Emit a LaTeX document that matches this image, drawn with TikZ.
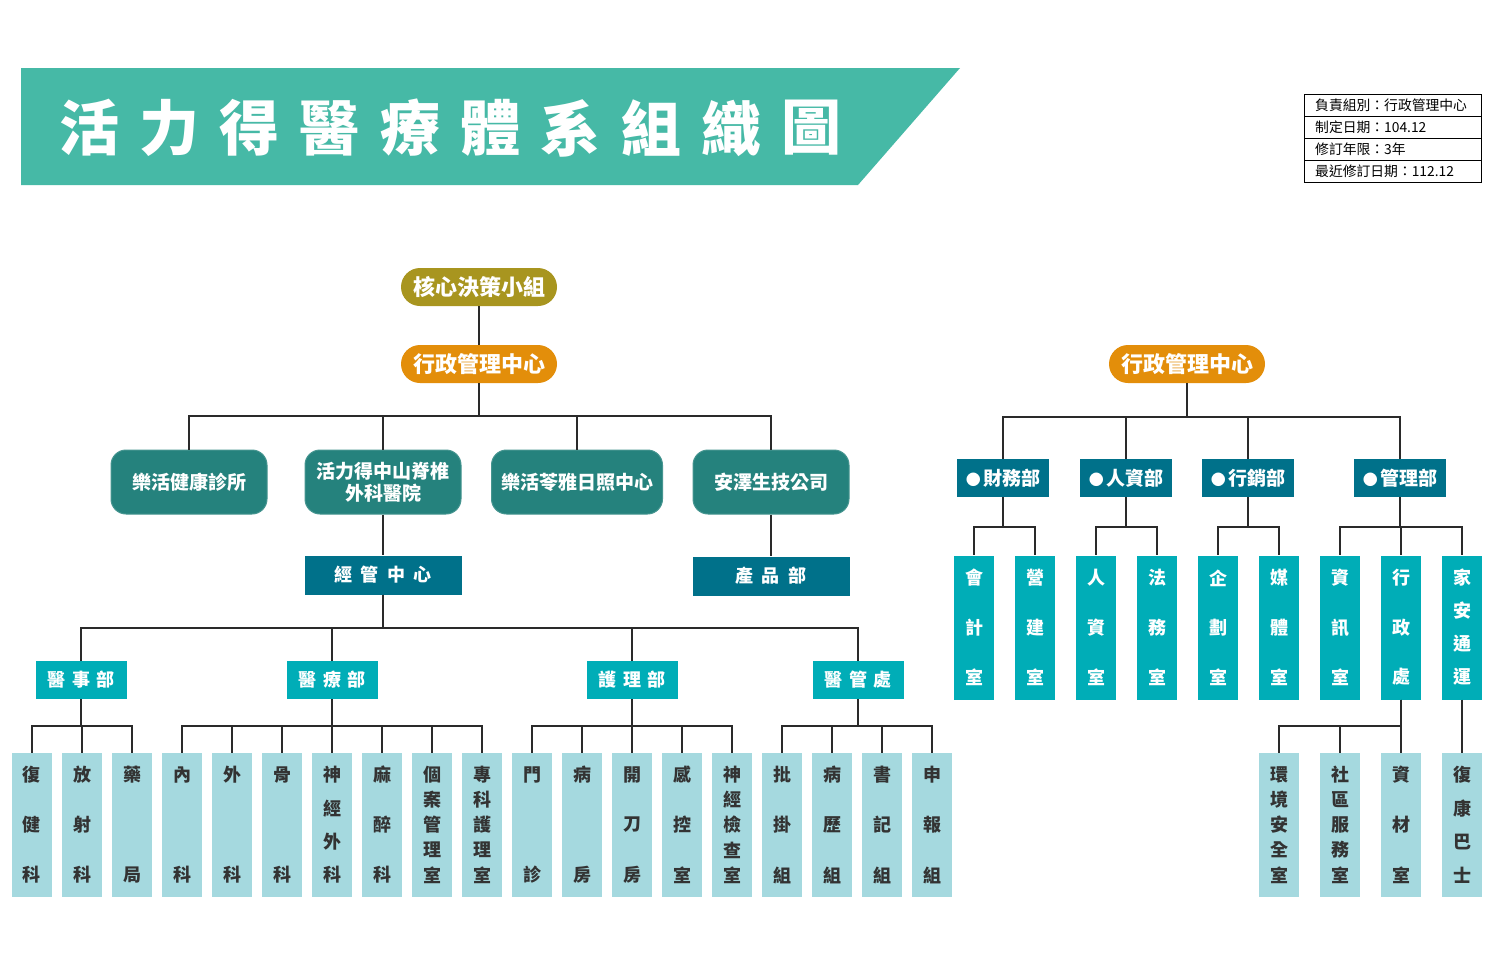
\documentclass[tikz,border=0pt]{standalone}
\usepackage{fontspec}
\setmainfont{Noto Sans CJK TC}
\usetikzlibrary{calc}
\definecolor{banner}{HTML}{46B9A6}
\definecolor{olive}{HTML}{A8951F}
\definecolor{orangeA}{HTML}{E38E0A}
\definecolor{tealR}{HTML}{25827D}
\definecolor{deepT}{HTML}{00718A}
\definecolor{brightT}{HTML}{00ADB7}
\definecolor{lightT}{HTML}{A5D9DF}
\definecolor{lineC}{HTML}{2A2A2A}
\definecolor{txtD}{HTML}{333333}
\newcommand\vleaf[8]{%
  \node[#3] (#1) at (#2,{(#5+#6)/2}) {};
  \foreach \c [count=\i] in {#8}{\node[#4] (#1-\i) at (#2,{#5+(\i-1)*(#6-#5)/(#7-1)}) {\c};}
}
\newcommand\dotmark{{\fontsize{15}{15}\selectfont ●}\hspace{0.12em}}
\begin{document}
\begin{tikzpicture}[x=1pt,y=-1pt,
  pill/.style={rounded corners=19pt,minimum width=156pt,minimum height=38pt,inner sep=0pt,text=white,font=\bfseries\fontsize{22}{26}\selectfont},
  comp/.style={rounded corners=15pt,fill=tealR,draw=tealR!85!white,line width=1pt,minimum width=156pt,minimum height=64pt,inner sep=0pt,text=white,align=center,font=\bfseries\fontsize{19}{24}\selectfont},
  hbox/.style={fill=deepT,minimum width=157pt,minimum height=39pt,inner sep=0pt,text=white,font=\bfseries\fontsize{18}{22}\selectfont},
  dept/.style={fill=brightT,minimum width=91pt,minimum height=38pt,inner sep=0pt,text=white,font=\bfseries\fontsize{18}{22}\selectfont},
  rdept/.style={fill=deepT,minimum width=92pt,minimum height=38pt,inner sep=0pt,text=white,font=\bfseries\fontsize{19}{22}\selectfont},
  leafL/.style={fill=lightT,minimum width=40pt,minimum height=144pt,inner sep=0pt},
  leafR/.style={fill=brightT,minimum width=40pt,minimum height=144pt,inner sep=0pt},
  ltxtL/.style={inner sep=0pt,text=txtD,font=\bfseries\fontsize{18}{20}\selectfont},
  ltxtR/.style={inner sep=0pt,text=white,font=\bfseries\fontsize{18}{20}\selectfont},
  conn/.style={draw=lineC,line width=1.8pt},
  info/.style={anchor=west,inner sep=0pt,text=black,font=\fontsize{13.8}{15}\selectfont}
]
\useasboundingbox[fill=white] (0,0) rectangle (1500,980);
% banner
\fill[banner] (21,68) -- (960,68) -- (858,185) -- (21,185) -- cycle;
\foreach \c [count=\i] in {活,力,得,醫,療,體,系,組,織,圖}{
  \node[inner sep=0pt,text=white,font=\bfseries\fontsize{60}{60}\selectfont] (t\i) at ({89+(\i-1)*80.3},128) {\c};
}
% info table
\draw[black,line width=0.9pt] (1304,94) rectangle (1481,182);
\foreach \yy in {116,138,160}{\draw[black,line width=0.9pt] (1304,\yy) -- (1481,\yy);}
\node[info] (i1) at (1315,105) {負責組別：行政管理中心};
\node[info] (i2) at (1315,127) {制定日期：104.12};
\node[info] (i3) at (1315,149) {修訂年限：3年};
\node[info] (i4) at (1315,171) {最近修訂日期：112.12};
% top
\node[pill,fill=olive] (core) at (479,287) {核心決策小組};
\node[pill,fill=orangeA] (admL) at (479,364) {行政管理中心};
\node[pill,fill=orangeA] (admR) at (1187,364) {行政管理中心};
% companies
\node[comp] (c1) at (189,482) {樂活健康診所};
\node[comp] (c2) at (383,482) {活力得中山脊椎\\[-2pt]外科醫院};
\node[comp,minimum width=171pt] (c3) at (577,482) {樂活苓雅日照中心};
\node[comp] (c4) at (771,482) {安澤生技公司};
\node[hbox] (jg) at (383,575) {經\hspace{0.45em}管\hspace{0.45em}中\hspace{0.45em}心};
\node[hbox] (prod) at (771,576) {產\hspace{0.45em}品\hspace{0.45em}部};
% departments
\node[dept] (d1) at (81,680) {醫\hspace{0.35em}事\hspace{0.35em}部};
\node[dept] (d2) at (332,680) {醫\hspace{0.35em}療\hspace{0.35em}部};
\node[dept] (d3) at (632,680) {護\hspace{0.35em}理\hspace{0.35em}部};
\node[dept] (d4) at (858,680) {醫\hspace{0.35em}管\hspace{0.35em}處};
% right departments
\node[rdept] (r1) at (1003,478) {\dotmark 財務部};
\node[rdept] (r2) at (1126,478) {\dotmark 人資部};
\node[rdept] (r3) at (1248,478) {\dotmark 行銷部};
\node[rdept] (r4) at (1400,478) {\dotmark 管理部};
% left leaves
\vleaf{L1}{32}{leafL}{ltxtL}{775}{875}{3}{復,健,科}
\vleaf{L2}{82}{leafL}{ltxtL}{775}{875}{3}{放,射,科}
\vleaf{L3}{132}{leafL}{ltxtL}{775}{875}{2}{藥,局}
\vleaf{L4}{182}{leafL}{ltxtL}{775}{875}{2}{內,科}
\vleaf{L5}{232}{leafL}{ltxtL}{775}{875}{2}{外,科}
\vleaf{L6}{282}{leafL}{ltxtL}{775}{875}{2}{骨,科}
\vleaf{L7}{332}{leafL}{ltxtL}{775}{875}{4}{神,經,外,科}
\vleaf{L8}{382}{leafL}{ltxtL}{775}{875}{3}{麻,醉,科}
\vleaf{L9}{432}{leafL}{ltxtL}{775}{875}{5}{個,案,管,理,室}
\vleaf{L10}{482}{leafL}{ltxtL}{775}{875}{5}{專,科,護,理,室}
\vleaf{L11}{532}{leafL}{ltxtL}{775}{875}{2}{門,診}
\vleaf{L12}{582}{leafL}{ltxtL}{775}{875}{2}{病,房}
\vleaf{L13}{632}{leafL}{ltxtL}{775}{875}{3}{開,刀,房}
\vleaf{L14}{682}{leafL}{ltxtL}{775}{875}{3}{感,控,室}
\vleaf{L15}{732}{leafL}{ltxtL}{775}{875}{5}{神,經,檢,查,室}
\vleaf{L16}{782}{leafL}{ltxtL}{775}{875}{3}{批,掛,組}
\vleaf{L17}{832}{leafL}{ltxtL}{775}{875}{3}{病,歷,組}
\vleaf{L18}{882}{leafL}{ltxtL}{775}{875}{3}{書,記,組}
\vleaf{L19}{932}{leafL}{ltxtL}{775}{875}{3}{申,報,組}
% right upper leaves
\vleaf{R1}{974}{leafR}{ltxtR}{578}{677}{3}{會,計,室}
\vleaf{R2}{1035}{leafR}{ltxtR}{578}{677}{3}{營,建,室}
\vleaf{R3}{1096}{leafR}{ltxtR}{578}{677}{3}{人,資,室}
\vleaf{R4}{1157}{leafR}{ltxtR}{578}{677}{3}{法,務,室}
\vleaf{R5}{1218}{leafR}{ltxtR}{578}{677}{3}{企,劃,室}
\vleaf{R6}{1279}{leafR}{ltxtR}{578}{677}{3}{媒,體,室}
\vleaf{R7}{1340}{leafR}{ltxtR}{578}{677}{3}{資,訊,室}
\vleaf{R8}{1401}{leafR}{ltxtR}{578}{677}{3}{行,政,處}
\vleaf{R9}{1462}{leafR}{ltxtR}{578}{677}{4}{家,安,通,運}
% right lower leaves
\vleaf{S1}{1279}{leafL}{ltxtL}{775}{875}{5}{環,境,安,全,室}
\vleaf{S2}{1340}{leafL}{ltxtL}{775}{875}{5}{社,區,服,務,室}
\vleaf{S3}{1401}{leafL}{ltxtL}{775}{875}{3}{資,材,室}
\vleaf{S4}{1462}{leafL}{ltxtL}{775}{875}{4}{復,康,巴,士}
% bus coordinates
\coordinate (busTop) at (0,416);
\coordinate (busJ) at (0,628);
\coordinate (busD) at (0,726);
\coordinate (busR) at (0,417);
\coordinate (busRD) at (0,527);
% connectors
\draw[conn] (core.south) -- (admL.north);
\foreach \n in {c1,c2,c3,c4}{\draw[conn] (admL.south) -- (admL.south |- busTop) -| (\n.north);}
\draw[conn] (c2.south) -- (jg.north);
\draw[conn] (c4.south) -- (prod.north);
\foreach \n in {d1,d2,d3,d4}{\draw[conn] (jg.south) -- (jg.south |- busJ) -| (\n.north);}
\foreach \n in {L1,L2,L3}{\draw[conn] (d1.south) -- (d1.south |- busD) -| (\n.north);}
\foreach \n in {L4,L5,L6,L7,L8,L9,L10}{\draw[conn] (d2.south) -- (d2.south |- busD) -| (\n.north);}
\foreach \n in {L11,L12,L13,L14,L15}{\draw[conn] (d3.south) -- (d3.south |- busD) -| (\n.north);}
\foreach \n in {L16,L17,L18,L19}{\draw[conn] (d4.south) -- (d4.south |- busD) -| (\n.north);}
\foreach \n in {r1,r2,r3,r4}{\draw[conn] (admR.south) -- (admR.south |- busR) -| (\n.north);}
\foreach \n in {R1,R2}{\draw[conn] (r1.south) -- (r1.south |- busRD) -| (\n.north);}
\foreach \n in {R3,R4}{\draw[conn] (r2.south) -- (r2.south |- busRD) -| (\n.north);}
\foreach \n in {R5,R6}{\draw[conn] (r3.south) -- (r3.south |- busRD) -| (\n.north);}
\foreach \n in {R7,R8,R9}{\draw[conn] (r4.south) -- (r4.south |- busRD) -| (\n.north);}
\foreach \n in {S1,S2,S3}{\draw[conn] (R8.south) -- (R8.south |- busD) -| (\n.north);}
\draw[conn] (R9.south) -- (S4.north);
\end{tikzpicture}
\end{document}
